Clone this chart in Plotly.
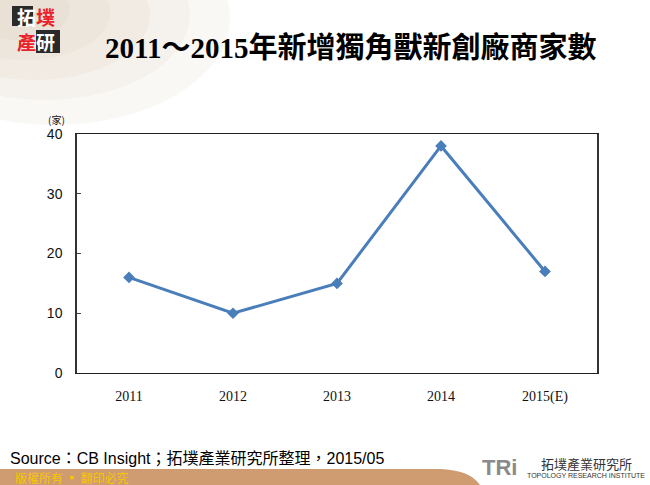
import plotly.graph_objects as go

years = ["2011", "2012", "2013", "2014", "2015(E)"]
counts = [16, 10, 15, 38, 17]
y_ticks = [0, 10, 20, 30, 40]

title_text = "2011～2015年新增獨角獸新創廠商家數"
source_text = "Source：CB Insight；拓墣產業研究所整理，2015/05"
unit_text = "(家)"

fig = go.Figure()
fig.add_trace(go.Scatter(
    x=years, y=counts, mode="lines+markers",
    line=dict(color="#4A7EBB", width=3),
    marker=dict(symbol="diamond", size=9, color="#4A7EBB"),
    showlegend=False, hoverinfo="skip",
))

fig.update_layout(
    width=650, height=485,
    margin=dict(l=77, r=53, t=134, b=112),
    paper_bgcolor="white", plot_bgcolor="rgba(0,0,0,0)",
    xaxis=dict(
        type="category", range=[-0.5, 4.5],
        showline=True, mirror=True, linecolor="#222", linewidth=1,
        showgrid=False, ticks="", ticklabelstandoff=10,
        tickfont=dict(family="Liberation Serif, serif", size=14, color="#111"),
        zeroline=False,
    ),
    yaxis=dict(
        range=[0, 40], tickvals=y_ticks,
        showline=True, mirror=True, linecolor="#333", linewidth=1.5,
        showgrid=False, ticks="inside", ticklen=4, tickcolor="#444",
        ticklabelstandoff=10,
        tickfont=dict(family="Liberation Sans, Arial, sans-serif", size=14, color="#111"),
        zeroline=False,
    ),
)

def px(xp):
    return (xp - 77) / 520.0
def py(yp):
    return (373 - yp) / 239.0

# faint beige map texture at top-left (layered soft ellipses)
for (x0, y0, x1, y1, a) in [(-120, -90, 230, 125, 0.10), (-100, -70, 190, 100, 0.10),
                            (-80, -50, 150, 80, 0.10), (-60, -35, 110, 60, 0.10),
                            (-40, -20, 70, 40, 0.10)]:
    fig.add_shape(type="circle", xref="paper", yref="paper",
                  x0=px(x0), x1=px(x1), y0=py(y1), y1=py(y0),
                  fillcolor=f"rgba(210,185,155,{a})", line=dict(width=0), layer="below")

# header logo boxes
fig.add_shape(type="rect", xref="paper", yref="paper",
              x0=px(12), x1=px(33), y0=py(26), y1=py(6),
              fillcolor="#2a2a2a", line=dict(width=0))
fig.add_shape(type="rect", xref="paper", yref="paper",
              x0=px(36), x1=px(60), y0=py(53), y1=py(30),
              fillcolor="#2a2a2a", line=dict(width=0))
logo_text = ("<span style='color:white'>拓</span><span style='color:#E8212B'>墣</span><br>"
             "<span style='color:#E8212B'>產</span><span style='color:white'>研</span>")
fig.add_annotation(x=px(36), y=py(29), xref="paper", yref="paper",
                   text=logo_text, showarrow=False, align="left",
                   font=dict(family="Noto Sans CJK TC", size=19, color="white", weight="bold"),
                   xanchor="center", yanchor="middle")

# title
fig.add_annotation(x=px(350), y=py(47), xref="paper", yref="paper",
                   text=title_text, showarrow=False,
                   font=dict(family="Liberation Serif, Noto Sans CJK TC", size=29,
                             color="black", weight="bold"),
                   xanchor="center", yanchor="middle")

# unit label
fig.add_annotation(x=px(56), y=py(119), xref="paper", yref="paper",
                   text=unit_text, showarrow=False,
                   font=dict(family="Noto Sans CJK TC", size=10, color="#111"),
                   xanchor="center", yanchor="middle")

# source
fig.add_annotation(x=px(8), y=py(458), xref="paper", yref="paper",
                   text=source_text, showarrow=False,
                   font=dict(family="Liberation Sans, Noto Sans CJK TC", size=16, color="black"),
                   xanchor="left", yanchor="middle")

# footer bar
fig.add_shape(type="path", xref="paper", yref="paper",
              path=f"M {px(0)} {py(469)} L {px(440)} {py(469)} Q {px(470)} {py(470)} {px(480)} {py(485)} L {px(0)} {py(485)} Z",
              fillcolor="#CF9B70", line=dict(width=0))
fig.add_annotation(x=px(13), y=py(477), xref="paper", yref="paper",
                   text="版權所有 ▪ 翻印必究", showarrow=False,
                   font=dict(family="Noto Sans CJK TC", size=12, color="#F7C700"),
                   xanchor="left", yanchor="middle")

# TRi logo bottom right
fig.add_annotation(x=px(499), y=py(467), xref="paper", yref="paper",
                   text="TRi", showarrow=False,
                   font=dict(family="Liberation Sans", size=22, color="#8a8a8a", weight="bold"),
                   xanchor="center", yanchor="middle")
fig.add_annotation(x=px(586), y=py(463), xref="paper", yref="paper",
                   text="拓墣產業研究所", showarrow=False,
                   font=dict(family="Noto Sans CJK TC", size=13, color="#333"),
                   xanchor="center", yanchor="middle")
fig.add_annotation(x=px(586), y=py(475), xref="paper", yref="paper",
                   text="TOPOLOGY RESEARCH INSTITUTE", showarrow=False,
                   font=dict(family="Liberation Sans Narrow, Liberation Sans", size=7, color="#333"),
                   xanchor="center", yanchor="middle")

fig.write_html("out.html", config={"displayModeBar": False},
               post_script="document.body.style.margin='0';document.body.style.padding='0';document.body.style.overflow='hidden';")
